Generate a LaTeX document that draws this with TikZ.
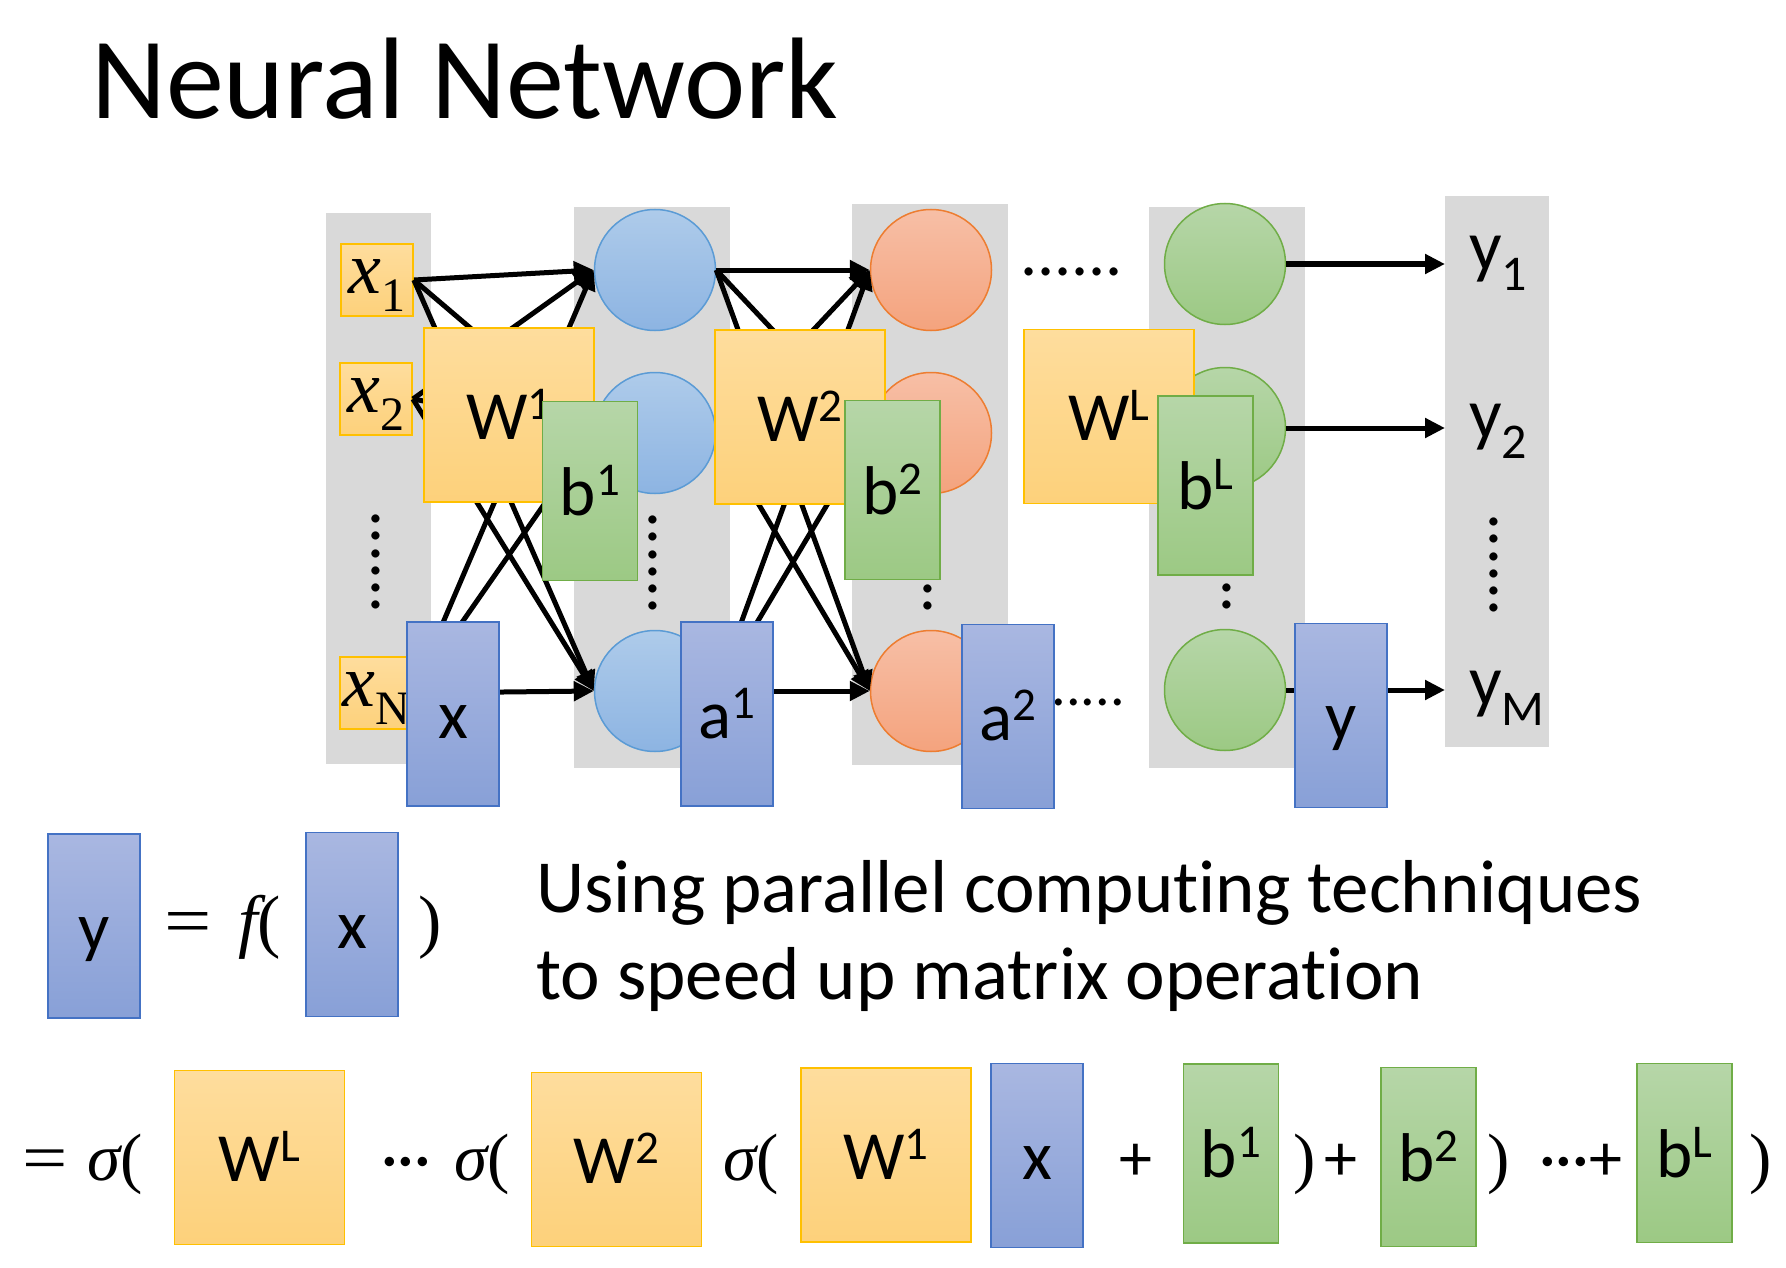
\documentclass[tikz,border=0pt]{standalone}
\usepackage{fontspec}
\usepackage{graphicx}
\setmainfont{Carlito}[Ligatures=CommonOff]
\newfontfamily\mathserif{Liberation Serif}
\usetikzlibrary{arrows.meta}

\definecolor{panel}{HTML}{D9D9D9}
\definecolor{ylwtop}{HTML}{FEDD9D}
\definecolor{ylwbot}{HTML}{FDD17B}
\definecolor{ylwline}{HTML}{FFC000}
\definecolor{grntop}{HTML}{B6D6A8}
\definecolor{grnbot}{HTML}{9CC984}
\definecolor{grnline}{HTML}{70AD47}
\definecolor{blutop}{HTML}{A9B7E1}
\definecolor{blubot}{HTML}{88A0D7}
\definecolor{bluline}{HTML}{4472C4}
\definecolor{ctop}{HTML}{AECBEA}
\definecolor{cbot}{HTML}{8DB4E2}
\definecolor{cline}{HTML}{5B9BD5}
\definecolor{otop}{HTML}{F7BFA6}
\definecolor{obot}{HTML}{F4A37E}
\definecolor{oline}{HTML}{ED7D31}

\newcommand\fsz[1]{\fontsize{#1}{#1}\selectfont}
\newcommand\supix[1]{\raisebox{20pt}{\fsz{47}#1}}
\newcommand\subix[1]{\raisebox{-20pt}{\fsz{50}#1}}
\newcommand\xin[1]{{\mathserif\itshape x}\raisebox{-18pt}{\mathserif\fsz{48}#1}}
\newcommand\wideeq{\scalebox{1.2}[1]{=}}

\tikzset{
  link/.style={-{Triangle[length=20pt,width=19pt]}, line width=5pt},
  neuron/.style={circle, minimum size=121pt, inner sep=0pt, line width=1.5pt},
  nblue/.style={neuron, top color=ctop, bottom color=cbot, draw=cline},
  norange/.style={neuron, top color=otop, bottom color=obot, draw=oline},
  ngreen/.style={neuron, top color=grntop, bottom color=grnbot, draw=grnline},
  tile/.style={rectangle, inner sep=0pt, line width=1.8pt, font=\fsz{69},
    text height=48pt, text depth=0pt},
  wmat/.style={tile, minimum width=170pt, minimum height=174pt,
    top color=ylwtop, bottom color=ylwbot, draw=ylwline},
  bvec/.style={tile, minimum width=95pt, minimum height=179pt,
    top color=grntop, bottom color=grnbot, draw=grnline},
  avec/.style={tile, minimum width=92pt, minimum height=184pt,
    top color=blutop, bottom color=blubot, draw=bluline},
  inbox/.style={rectangle, inner sep=0pt, line width=1.8pt,
    minimum width=72pt, minimum height=72pt, font=\fsz{74},
    top color=ylwtop, bottom color=ylwbot, draw=ylwline,
    text height=42pt, text depth=16pt},
  vdots/.style={rotate=90, font=\fsz{68}, inner sep=0pt},
  hdots/.style={font=\fsz{68}, inner sep=0pt},
  outlbl/.style={anchor=base west, inner sep=0pt, font=\fsz{72}},
  sym/.style={anchor=base west, inner sep=0pt, font=\mathserif\fsz{67}},
  symA/.style={anchor=base west, inner sep=0pt, font=\mathserif\fsz{70}},
  plain/.style={anchor=base west, inner sep=0pt, font=\fsz{66}},
  body/.style={anchor=base west, inner sep=0pt, font=\fsz{75}}
}

\begin{document}
\begin{tikzpicture}[x=1pt,y=-1pt]
\path[use as bounding box, fill=white] (0,0) rectangle (1786,1268);

% title
\node[anchor=base west, inner sep=0pt, font=\fsz{116}] (title) at (91,119) {Neural Network};

% layer panels
\fill[panel] (326,213) rectangle (431,764);
\fill[panel] (574,207) rectangle (730,768);
\fill[panel] (852,204) rectangle (1008,765);
\fill[panel] (1149,207) rectangle (1305,768);
\fill[panel] (1445,196) rectangle (1549,747);

% omitted-unit dots
\node[vdots] (d0) at (376,562) {......};
\node[vdots] (d1) at (653,563) {......};
\node[vdots] (d2) at (928,563) {......};
\node[vdots] (d3) at (1227,562) {......};
\node[vdots] (d4) at (1494,565) {......};
\node[hdots] (dtop) at (1071.5,272) {......};
\node[hdots, font=\fsz{58}] (dbot) at (1081,702) {......};

% neurons
\node[nblue] (h11) at (655,270) {};
\node[nblue] (h12) at (655,433) {};
\node[nblue] (h13) at (655,691) {};
\node[norange] (h21) at (931,270) {};
\node[norange] (h22) at (931,433) {};
\node[norange] (h23) at (931,691) {};
\node[ngreen] (h31) at (1225,264) {};
\node[ngreen] (h32) at (1225,428) {};
\node[ngreen] (h33) at (1225,690) {};

% inputs
\node[inbox] (in1) at (377,280) {\xin{1}};
\node[inbox] (in2) at (376,399) {\xin{2}};
\node[inbox] (inN) at (376,693) {\xin{N}};

% outputs
\node[outlbl] (out1) at (1469,270) {y\subix{1}};
\node[outlbl] (out2) at (1469,438) {y\subix{2}};
\node[outlbl] (outM) at (1469,705) {y\subix{M}};

% connections
\foreach \s in {in1,in2,inN}
  \foreach \t in {h11,h12,h13}
    \draw[link] (\s.east) -- (\t.west);
\foreach \s in {h11,h12,h13}
  \foreach \t in {h21,h22,h23}
    \draw[link] (\s.east) -- (\t.west);
\draw[link, shorten >=24pt] (h31.east) -- (h31.east -| out1.west);
\draw[link, shorten >=24pt] (h32.east) -- (h32.east -| out2.west);
\draw[link, shorten >=24pt] (h33.east) -- (h33.east -| outM.west);

% weights and biases
\node[wmat] (W1) at (509,415) {W\supix{1}};
\node[wmat] (W2) at (800,417) {W\supix{2}};
\node[wmat] (WL) at (1109,416.5) {W\supix{L}};
\node[bvec] (b1) at (590,491) {b\supix{1}};
\node[bvec] (b2) at (892.5,490) {b\supix{2}};
\node[bvec] (bL) at (1205.5,485.5) {b\supix{L}};

% layer vectors
\node[avec] (vx) at (453,714) {x};
\node[avec] (va1) at (727,714) {a\supix{1}};
\node[avec] (va2) at (1008,716.5) {a\supix{2}};
\node[avec] (vy) at (1341,715.5) {y};

% y = f(x)
\node[avec] (ey) at (94,926) {y};
\node[symA] (eq0) at (164,944) {\wideeq};
\node[symA] (ef) at (238,944) {{\itshape f}(};
\node[avec] (ex) at (352,924.5) {x};
\node[symA] (ecl) at (418,944) {)};

\node[body] (txt1) at (536,912) {Using parallel computing techniques};
\node[body] (txt2) at (536,999) {to speed up matrix operation};

% expanded expression
\node[sym] (q0) at (22,1180) {\wideeq};
\node[sym] (s1) at (87,1180) {{\itshape σ}(};
\node[wmat] (xWL) at (259.5,1157.5) {W\supix{L}};
\node[plain] (q1) at (381,1180) {···};
\node[sym] (s2) at (454,1180) {{\itshape σ}(};
\node[wmat] (xW2) at (616.5,1159.5) {W\supix{2}};
\node[sym] (s3) at (723,1180) {{\itshape σ}(};
\node[wmat] (xW1) at (886,1155) {W\supix{1}};
\node[avec] (xx) at (1037,1155.5) {x};
\node[plain] (p1) at (1119,1180) {+};
\node[bvec] (xb1) at (1231,1153.5) {b\supix{1}};
\node[sym] (c1) at (1293,1180) {)};
\node[plain] (p2) at (1324,1180) {+};
\node[bvec] (xb2) at (1428.5,1157) {b\supix{2}};
\node[sym] (c2) at (1487,1180) {)};
\node[plain] (p3) at (1539,1180) {···+};
\node[bvec] (xbL) at (1684.5,1153) {b\supix{L}};
\node[sym] (c3) at (1749,1180) {)};
\end{tikzpicture}
\end{document}
